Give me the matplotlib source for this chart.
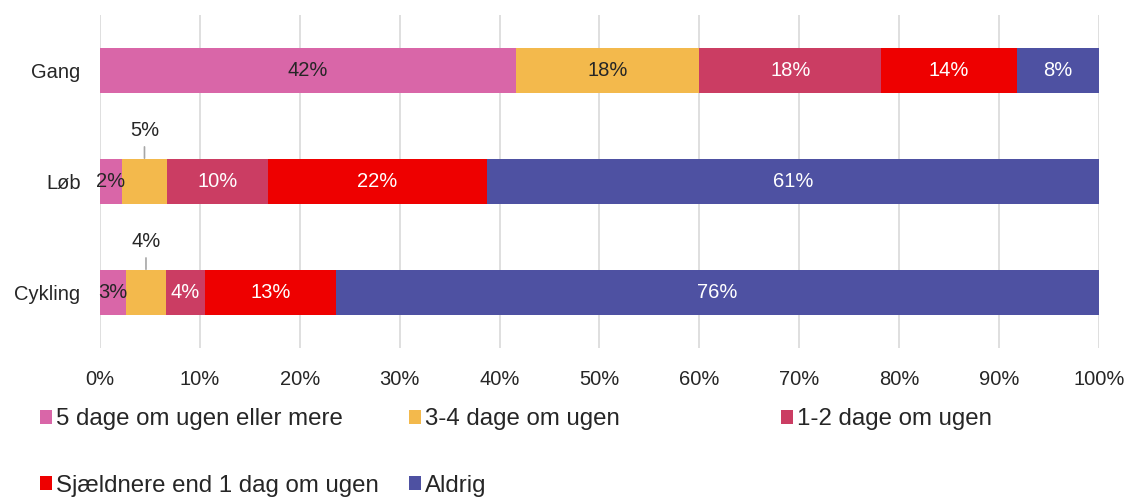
import matplotlib.pyplot as plt
from matplotlib.patches import Patch

plt.rcParams['font.family'] = ['Liberation Sans', 'DejaVu Sans']

# data
categories = ['Gang', 'Løb', 'Cykling']
series = ['5 dage om ugen eller mere', '3-4 dage om ugen', '1-2 dage om ugen',
          'Sjældnere end 1 dag om ugen', 'Aldrig']
values = [
    [41.6, 2.2, 2.6],   # 5 dage om ugen eller mere
    [18.4, 4.5, 4.0],   # 3-4 dage om ugen
    [18.2, 10.1, 3.9],  # 1-2 dage om ugen
    [13.6, 21.9, 13.1], # Sjældnere end 1 dag om ugen
    [8.2, 61.3, 76.4],  # Aldrig
]
labels = [
    ['42%', '2%', '3%'],
    ['18%', '5%', '4%'],
    ['18%', '10%', '4%'],
    ['14%', '22%', '13%'],
    ['8%', '61%', '76%'],
]
colors = ['#D966A8', '#F3B94C', '#CB3D63', '#EE0000', '#4E51A2']
text_colors = ['#262626', '#262626', 'white', 'white', 'white']
xticks = list(range(0, 101, 10))

fig = plt.figure(figsize=(11.29, 4.98), dpi=100)
ax = fig.add_axes([0.0886, 0.301, 0.8848, 0.669])

ypos = list(range(len(categories)))
left = [0.0] * len(categories)
for i, s in enumerate(series):
    ax.barh(ypos, values[i], left=left, height=0.4, color=colors[i],
            label=s, zorder=3)
    for j in ypos:
        cx = left[j] + values[i][j] / 2
        if i == 1 and j > 0:
            # small yellow segments: label above with a leader line
            ax.annotate(labels[i][j], xy=(cx, j - 0.21), xytext=(cx, j - 0.46),
                        ha='center', va='center', fontsize=14.5, color='#262626',
                        arrowprops=dict(arrowstyle='-', color='#A6A6A6', lw=1.2,
                                        shrinkA=3, shrinkB=0))
        else:
            ax.text(cx, j, labels[i][j], ha='center', va='center', fontsize=14.5,
                    color=text_colors[i], zorder=4)
    left = [left[k] + values[i][k] for k in ypos]

ax.set_xlim(0, 100)
ax.set_ylim(2.5, -0.5)
ax.set_xticks(xticks)
ax.set_xticklabels([f'{t}%' for t in xticks])
ax.set_yticks(ypos)
ax.set_yticklabels(categories)
ax.tick_params(axis='both', length=0, labelsize=14.5, labelcolor='#262626')
ax.tick_params(axis='x', pad=16)
ax.tick_params(axis='y', pad=14)
ax.grid(axis='x', color='#D9D9D9', lw=1.2, zorder=0)
for sp in ax.spines.values():
    sp.set_visible(False)

# legend laid out in three fixed columns
col_groups = [[0, 3], [1, 4], [2]]
col_x = [0.0355, 0.362, 0.692]
for cx, grp in zip(col_x, col_groups):
    handles = [Patch(facecolor=colors[k]) for k in grp]
    fig.legend(handles, [series[k] for k in grp], loc='upper left',
               bbox_to_anchor=(cx, 0.18), frameon=False, fontsize=17.3,
               handlelength=0.5, handleheight=0.5, handletextpad=0.16,
               labelspacing=1.85, labelcolor='#262626', borderaxespad=0,
               borderpad=0)

fig.savefig('out.png', dpi=100)
